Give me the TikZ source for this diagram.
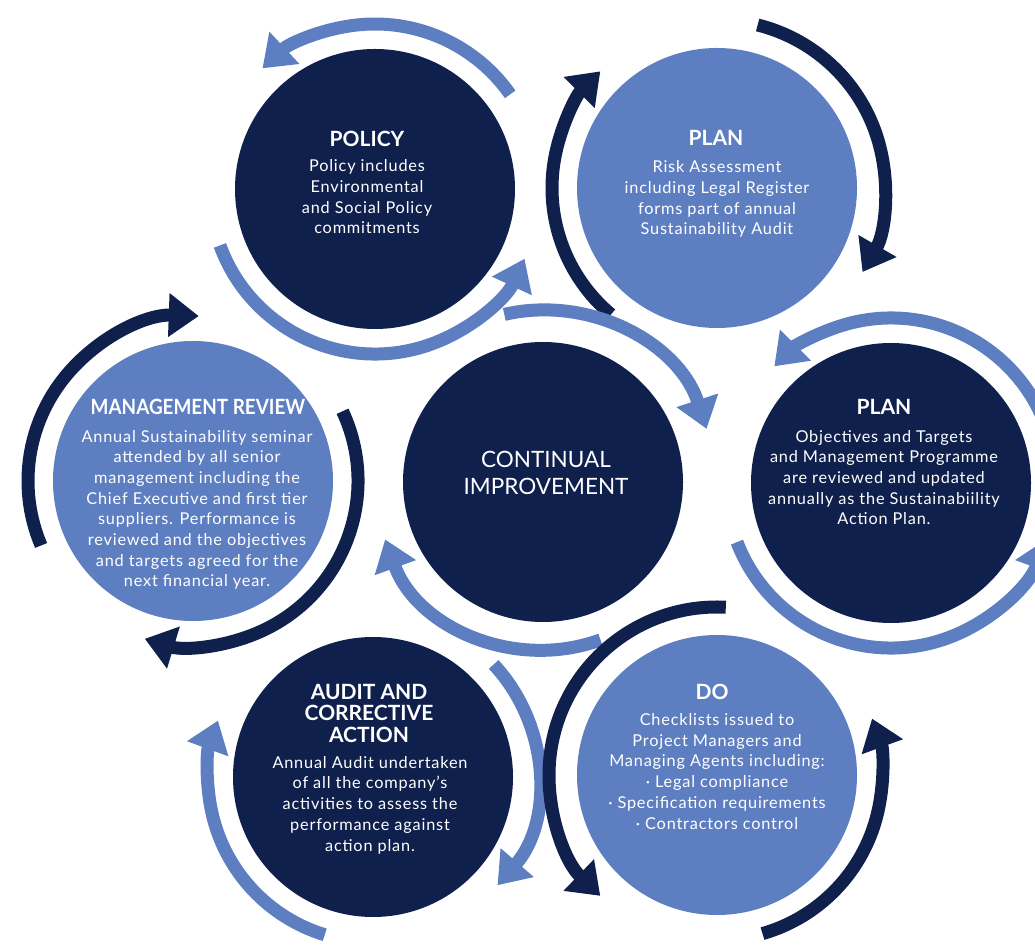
\documentclass[tikz,border=0pt]{standalone}
\usepackage{fontspec}
\usepackage{graphicx}
\setmainfont{Lato}
\newfontfamily\bodyfont{Lato}[LetterSpace=5]
\usetikzlibrary{arrows.meta}
\definecolor{navy}{RGB}{15,32,77}
\definecolor{sky}{RGB}{93,126,192}
\begin{document}
\begin{tikzpicture}[x=1pt,y=1pt,
  disc/.style={circle, minimum size=280pt, inner sep=0pt},
  darkdisc/.style={disc, fill=navy},
  lightdisc/.style={disc, fill=sky},
  flow/.style={line width=13pt, -{Triangle[width=42pt,length=30pt]}},
  lightflow/.style={flow, draw=sky},
  darkflow/.style={flow, draw=navy},
  head/.style={text=white, font=\bfseries\fontsize{21}{21.5}\selectfont, align=center, inner sep=0pt, anchor=base},
  body/.style={text=white, font=\bodyfont\fontsize{16.3}{20.7}\selectfont, align=center, inner sep=0pt, anchor=base},
  big/.style={text=white, font=\fontsize{22.5}{27}\selectfont, align=center, inner sep=0pt, anchor=base},
]
\useasboundingbox (0,0) rectangle (1035,948);
\clip (0,0) rectangle (1035,948);
\fill[white] (0,0) rectangle (1035,948);

% discs
\node[darkdisc]  (pol) at (375,759) {};
\node[lightdisc] (pla) at (717,760) {};
\node[darkdisc]  (plb) at (891,465) {};
\node[lightdisc] (mgt) at (193,467) {};
\node[darkdisc]  (cen) at (543,466) {};
\node[darkdisc]  (aud) at (373,171) {};
\node[lightdisc] (do)  at (717,173) {};

% arcs
\draw[lightflow] ([shift={(35:165)}]pol.center) arc[start angle=35, end angle=133, radius=165];
\draw[lightflow] ([shift={(200:165)}]pol.center) arc[start angle=200, end angle=335, radius=165];
\draw[darkflow] ([shift={(230:165)}]pla.center) arc[start angle=230, end angle=135, radius=165];
\draw[darkflow] ([shift={(76:168)}]pla.center) arc[start angle=76, end angle=-30, radius=168];
\draw[lightflow] ([shift={(15:165)}]plb.center) arc[start angle=15, end angle=135, radius=165];
\draw[lightflow] ([shift={(201:165)}]plb.center) arc[start angle=201, end angle=340, radius=165];
\draw[darkflow] ([shift={(203:165)}]mgt.center) arc[start angle=203, end angle=88, radius=165];
\draw[darkflow] ([shift={(25:165)}]mgt.center) arc[start angle=25, end angle=-107, radius=165];
\draw[lightflow] ([shift={(253:165)}]aud.center) arc[start angle=253, end angle=160, radius=165];
\draw[lightflow] ([shift={(43:165)}]aud.center) arc[start angle=43, end angle=-41, radius=165];
\draw[lightflow] ([shift={(103:172)}]cen.center) arc[start angle=103, end angle=18, radius=172];
\draw[lightflow] ([shift={(290:168)}]cen.center) arc[start angle=290, end angle=200, radius=168];
\draw[darkflow] ([shift={(87:168)}]do.center) arc[start angle=87, end angle=226, radius=168];
\draw[darkflow] ([shift={(286:165)}]do.center) arc[start angle=286, end angle=380, radius=165];

% texts (multi-line nodes: base = baseline of last line)
\node[head] (polT) at (367,801) {POLICY};
\node[body] (polB) at (367,714) {Policy includes\\Environmental\\and Social Policy\\commitments};

\node[head] (plaT) at (716,802) {PLAN};
\node[body] (plaB) at (717,713) {Risk Assessment\\including Legal Register\\forms part of annual\\Sustainability Audit};

\node[head] (plbT) at (884,533) {PLAN};
\node[body] (plbB) at (884,423) {Objectives and Targets\\and Management Programme\\are reviewed and updated\\annually as the Sustainabiility\\Action Plan.};

\node[head] (mgtT) at (198,533) {\scalebox{0.9}[1]{MANAGEMENT REVIEW}};
\node[body] (mgtB) at (197,361) {Annual Sustainability seminar\\attended by all senior\\management including the\\Chief Executive and first tier\\suppliers. Performance is\\reviewed and the objectives\\and targets agreed for the\\next financial year.};

\node[big] (cenT) at (546,453) {CONTINUAL\\IMPROVEMENT};

\node[head] (audT) at (369,206) {AUDIT AND\\CORRECTIVE\\ACTION};
\node[body] (audB) at (370,97) {Annual Audit undertaken\\of all the company’s\\activities to assess the\\performance against\\action plan.};

\node[head] (doT) at (712,249) {DO};
\node[body] (doB) at (717,119) {Checklists issued to\\Project Managers and\\Managing Agents including:\\· Legal compliance\\· Specification requirements\\· Contractors control};
\end{tikzpicture}
\end{document}
